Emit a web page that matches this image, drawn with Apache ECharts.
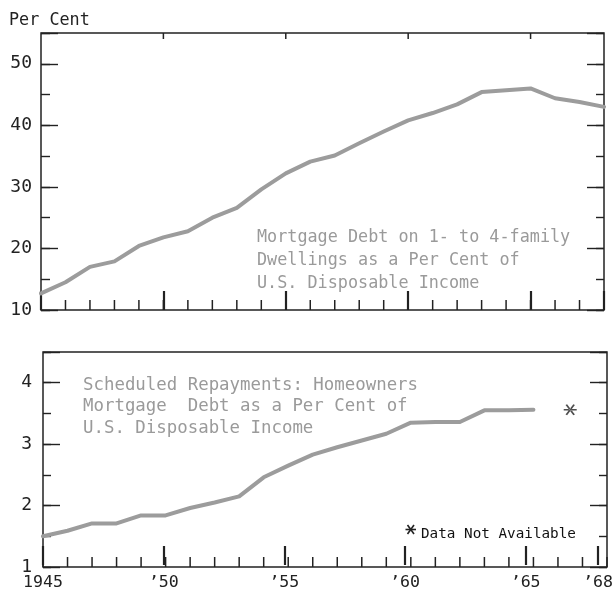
<!DOCTYPE html>
<html>
<head>
<meta charset="utf-8">
<script src="https://cdn.jsdelivr.net/npm/echarts@6/dist/echarts.min.js"></script>
<style>
	html, body { margin: 0; padding: 0; background: #fff; }
	#main { width: 616px; height: 591px; }
</style>
</head>
<body>
<div id="main"></div>
<script>
// top panel: mortgage debt as % of disposable income
const debtYears = [1945, 1946, 1947, 1948, 1949, 1950, 1951, 1952, 1953, 1954, 1955, 1956,
	1957, 1958, 1959, 1960, 1961, 1962, 1963, 1964, 1965, 1966, 1967, 1968];
const debtRatio = [12.7, 14.5, 17.0, 17.9, 20.4, 21.8, 22.8, 25.0, 26.6, 29.6, 32.2, 34.1,
	35.1, 37.1, 39.0, 40.8, 42.0, 43.4, 45.4, 45.7, 46.0, 44.4, 43.8, 43.0];

// bottom panel: scheduled repayments as % of disposable income
const repayYears = [1945, 1946, 1947, 1948, 1949, 1950, 1951, 1952, 1953, 1954, 1955, 1956,
	1957, 1958, 1959, 1960, 1961, 1962, 1963, 1964, 1965];
const repayRatio = [1.50, 1.59, 1.71, 1.71, 1.84, 1.84, 1.96, 2.05, 2.15, 2.46, 2.65, 2.83,
	2.95, 3.06, 3.17, 3.35, 3.36, 3.36, 3.55, 3.55, 3.56];

// data not available marker
const naPoint = [1966.5, 3.56];

// x ticks and labels
const yearTicks = [1945, 1946, 1947, 1948, 1949, 1950, 1951, 1952, 1953, 1954, 1955, 1956,
	1957, 1958, 1959, 1960, 1961, 1962, 1963, 1964, 1965, 1966, 1967, 1968];
const topBorderTicks = [1950, 1955, 1960, 1965];
const xTickYears = [1945, 1950, 1955, 1960, 1965, 1968];
const xTickLabels = ['1945', '’50', '’55', '’60', '’65', '’68'];

const topNote = ['Mortgage Debt on 1- to 4-family', 'Dwellings as a Per Cent of', 'U.S. Disposable Income'];
const bottomNote = ['Scheduled Repayments: Homeowners', 'Mortgage  Debt as a Per Cent of', 'U.S. Disposable Income'];

const INK = '#222';
const LINE = '#9c9c9c';
const MONO = '"DejaVu Sans Mono", monospace';
const ASTERISK = 'path://M0 4.3 L0 5.7 L10 5.7 L10 4.3 Z M7.4 -0.36 L1.4 9.64 L2.6 10.36 L8.6 0.36 Z M2.6 -0.36 L8.6 9.64 L7.4 10.36 L1.4 0.36 Z';

const topRect = { left: 41, top: 33, width: 563, height: 277 };
const botRect = { left: 43, top: 352, width: 564, height: 215 };

let myChart = echarts.init(document.getElementById('main'));

// x axis used only to place the series
function xData(grid) {
	return { type: 'value', gridIndex: grid, min: 1945, max: 1968, show: false, splitLine: { show: false } };
}

// x axis drawn alone in its own overlay grid, for the long 5-year ticks / labels
function xTicks(grid, labels) {
	return {
		type: 'value', gridIndex: grid, position: 'bottom',
		min: 1945, max: 1968, interval: 5,
		splitLine: { show: false },
		axisLine: { show: false, onZero: false },
		axisTick: { show: true, inside: true, length: 19, lineStyle: { color: INK, width: 2.2 } },
		axisLabel: labels ? {
			show: true, margin: 9, color: INK, fontFamily: MONO, fontSize: 16.6,
			formatter: function (v) {
				let i = xTickYears.indexOf(v);
				return i >= 0 ? xTickLabels[i] : '';
			}
		} : { show: false }
	};
}

function yAxisPart(grid, pos, min, max, interval, len, labels, margin) {
	return {
		type: 'value', gridIndex: grid, position: pos,
		min: min, max: max, interval: interval,
		splitLine: { show: false },
		axisLine: { show: false, onZero: false },
		axisTick: { show: true, inside: true, length: len, lineStyle: { color: INK, width: 1.4 } },
		axisLabel: labels ? {
			show: true, margin: margin, color: INK, fontFamily: MONO, fontSize: 18,
			formatter: function (v) {
				return Number.isInteger(v) && (interval === 1 || v % 10 === 0) ? String(v) : '';
			}
		} : { show: false }
	};
}

function hiddenY(grid) {
	return { type: 'value', gridIndex: grid, min: 0, max: 1, show: false, splitLine: { show: false } };
}

// short year ticks, placed by the x scale, drawn from the grid edge
function tickSeries(xi, yi, years, yRef, len, fromTop) {
	return {
		type: 'custom',
		xAxisIndex: xi, yAxisIndex: yi,
		silent: true,
		data: years.map(function (y) { return [y, yRef]; }),
		renderItem: function (params, api) {
			let cs = params.coordSys;
			let x = api.coord([api.value(0), api.value(1)])[0];
			let y0 = fromTop ? cs.y : cs.y + cs.height;
			let y1 = fromTop ? y0 + len : y0 - len;
			return {
				type: 'line',
				shape: { x1: x, y1: y0, x2: x, y2: y1 },
				style: { stroke: INK, lineWidth: 1.5 }
			};
		}
	};
}

function noteLines(lines, x, y0, step, size) {
	return lines.map(function (t, i) {
		return {
			type: 'text', left: x, top: y0 + i * step - size * 0.6,
			style: { text: t, fill: '#9a9a9a', font: size + 'px ' + MONO }
		};
	});
}

let option = {
	backgroundColor: '#fff',
	animation: false,
	grid: [
		Object.assign({ show: true, borderColor: INK, borderWidth: 1.5 }, topRect),
		Object.assign({ show: false }, topRect),
		Object.assign({ show: true, borderColor: INK, borderWidth: 1.5 }, botRect),
		Object.assign({ show: false }, botRect)
	],
	xAxis: [
		xData(0),
		xTicks(1, false),
		xData(2),
		xTicks(3, true)
	],
	yAxis: [
		yAxisPart(0, 'left', 10, 55, 5, 9, false),
		yAxisPart(0, 'left', 10, 55, 10, 17, true, 9),
		yAxisPart(0, 'right', 10, 55, 5, 8, false),
		yAxisPart(0, 'right', 10, 55, 10, 17, false),
		hiddenY(1),
		yAxisPart(2, 'left', 1, 4.5, 0.5, 8, false),
		yAxisPart(2, 'left', 1, 4.5, 1, 17, true, 11),
		yAxisPart(2, 'right', 1, 4.5, 0.5, 8, false),
		yAxisPart(2, 'right', 1, 4.5, 1, 17, false),
		hiddenY(3)
	],
	series: [
		{
			name: 'Mortgage Debt',
			type: 'line',
			xAxisIndex: 0, yAxisIndex: 1,
			showSymbol: false, symbol: 'none',
			lineStyle: { color: LINE, width: 4, cap: 'round', join: 'round' },
			data: debtYears.map(function (y, i) { return [y, debtRatio[i]]; })
		},
		{
			name: 'Scheduled Repayments',
			type: 'line',
			xAxisIndex: 2, yAxisIndex: 6,
			showSymbol: false, symbol: 'none',
			lineStyle: { color: LINE, width: 4, cap: 'round', join: 'round' },
			data: repayYears.map(function (y, i) { return [y, repayRatio[i]]; })
		},
		{
			name: 'Not Available',
			type: 'scatter',
			xAxisIndex: 2, yAxisIndex: 6,
			symbol: ASTERISK, symbolSize: [13, 11],
			itemStyle: { color: INK },
			data: [naPoint]
		},
		tickSeries(0, 1, yearTicks, 10, 10, false),
		tickSeries(0, 1, topBorderTicks, 10, 6, true),
		tickSeries(2, 6, yearTicks, 1, 10, false)
	],
	graphic: [
		{ type: 'text', left: 9, top: 12, style: { text: 'Per Cent', fill: INK, font: '16.8px ' + MONO } }
	].concat(
		noteLines(topNote, 257, 239, 23, 16.8),
		noteLines(bottomNote, 83, 387, 21.7, 17.4),
		[
			{ type: 'line', shape: { x1: 405.5, y1: 529.5, x2: 416, y2: 529.5 }, style: { stroke: INK, lineWidth: 1.6 } },
			{ type: 'line', shape: { x1: 407.5, y1: 525, x2: 414, y2: 534 }, style: { stroke: INK, lineWidth: 1.6 } },
			{ type: 'line', shape: { x1: 407.5, y1: 534, x2: 414, y2: 525 }, style: { stroke: INK, lineWidth: 1.6 } },
			{ type: 'text', left: 421, top: 527, style: { text: 'Data Not Available', fill: '#111', font: '14.3px ' + MONO } }
		]
	)
};

myChart.setOption(option);
</script>
</body>
</html>
